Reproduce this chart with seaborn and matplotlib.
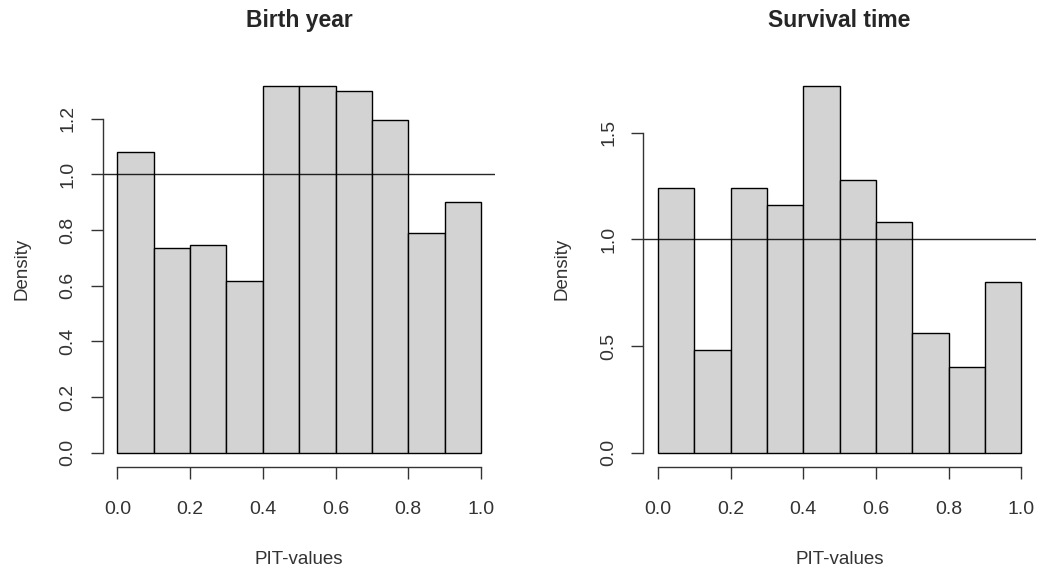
import numpy as np
import pandas as pd
import matplotlib
matplotlib.use("Agg")
import matplotlib.pyplot as plt
import seaborn as sns

# ---- data ----
bin_edges = [0.0, 0.1, 0.2, 0.3, 0.4, 0.5, 0.6, 0.7, 0.8, 0.9, 1.0]
birth_density = [1.08, 0.734, 0.746, 0.618, 1.319, 1.319, 1.299, 1.195, 0.788, 0.900]
survival_density = [1.24, 0.48, 1.24, 1.16, 1.72, 1.28, 1.08, 0.56, 0.40, 0.80]
titles = ["Birth year", "Survival time"]
x_ticks = [0.0, 0.2, 0.4, 0.6, 0.8, 1.0]
x_ticklabels = ["0.0", "0.2", "0.4", "0.6", "0.8", "1.0"]
birth_yticks = [0.0, 0.2, 0.4, 0.6, 0.8, 1.0, 1.2]
birth_yticklabels = ["0.0", "0.2", "0.4", "0.6", "0.8", "1.0", "1.2"]
surv_yticks = [0.0, 0.5, 1.0, 1.5]
surv_yticklabels = ["0.0", "0.5", "1.0", "1.5"]

sns.set_style("ticks")
plt.rcParams['font.family'] = ['Liberation Sans', 'DejaVu Sans']

W, H = 1038, 576
fig = plt.figure(figsize=(W / 100, H / 100), dpi=100)

# axes positions in pixels (left, right, top, bottom)
boxes = [(102.8, 495.5, 71.0, 467.4), (643.3, 1036.0, 71.0, 467.4)]
datasets = [birth_density, survival_density]
yticks_all = [birth_yticks, surv_yticks]
yticklabels_all = [birth_yticklabels, surv_yticklabels]

centers = [(bin_edges[i] + bin_edges[i + 1]) / 2 for i in range(len(bin_edges) - 1)]

for k in range(2):
    l, r, t, b = boxes[k]
    ax = fig.add_axes([l / W, 1 - b / H, (r - l) / W, (b - t) / H])
    df = pd.DataFrame({"x": centers, "w": datasets[k]})
    sns.histplot(data=df, x="x", weights="w", bins=bin_edges, stat="count",
                 color="#D3D3D3", edgecolor="black", linewidth=1.0, alpha=1.0, ax=ax)
    ax.axhline(1.0, color="black", linewidth=1.0, alpha=0.85)
    ymax = max(datasets[k])
    ax.set_xlim(-0.04, 1.04)
    ax.set_ylim(-0.04 * ymax, 1.04 * ymax)
    for s in ["top", "right"]:
        ax.spines[s].set_visible(False)
    ax.spines["left"].set_bounds(yticks_all[k][0], yticks_all[k][-1])
    ax.spines["bottom"].set_bounds(x_ticks[0], x_ticks[-1])
    for s in ["left", "bottom"]:
        ax.spines[s].set_color("#333333")
        ax.spines[s].set_linewidth(1.0)
    ax.set_xticks(x_ticks)
    ax.set_xticklabels(x_ticklabels)
    ax.set_yticks(yticks_all[k])
    ax.set_yticklabels(yticklabels_all[k], rotation=90, va="center")
    ax.tick_params(axis="both", direction="out", length=8.3, width=1.0,
                   color="#333333", labelsize=14, labelcolor="#333333",
                   bottom=True, left=True)
    ax.tick_params(axis="x", pad=16)
    ax.tick_params(axis="y", pad=10.5)
    ax.set_xlabel("PIT-values", fontsize=13.5, color="#333333")
    ax.set_ylabel("Density", fontsize=13.5, color="#333333")
    ax.xaxis.set_label_coords(0.5, (b - 560) / (b - t))
    ax.xaxis.label.set_va("center")
    ylab_x = 21.7 if k == 0 else 561.7
    ax.yaxis.set_label_coords((ylab_x - l) / (r - l), 0.5)
    ax.yaxis.label.set_va("center")
    ax.set_title(titles[k], fontsize=16.5, fontweight="bold", pad=32)
    ax.grid(False)

fig.savefig("out.png", dpi=100)
